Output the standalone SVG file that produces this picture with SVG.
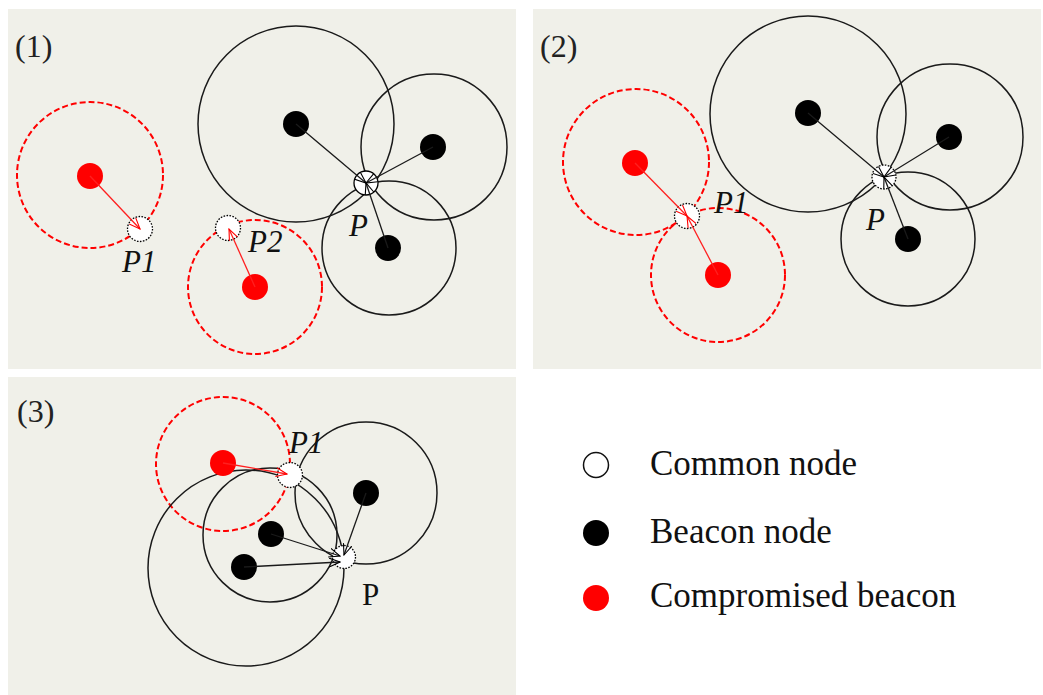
<svg xmlns="http://www.w3.org/2000/svg" width="1043" height="695" viewBox="0 0 1043 695">
<style>
.bg{fill:#f0f0e9}
.rng{fill:none;stroke:#1a1a1a;stroke-width:1.5}
.rrng{fill:none;stroke:#ff0000;stroke-width:2;stroke-dasharray:6 3}
.bk{fill:#000}
.rd{fill:#ff0000}
.cn{fill:#fff;stroke:#000;stroke-width:1.3;stroke-dasharray:1.6 1.4}
.ln{stroke:#1a1a1a;stroke-width:1.3;fill:none;marker-end:url(#ab)}
.rl{stroke:#ff2020;stroke-width:1.3;fill:none;marker-end:url(#ar)}
.tag{font-family:"Liberation Serif",serif;font-size:32px;fill:#222}
.it{font-family:"Liberation Serif",serif;font-style:italic;font-size:31px;fill:#111}
.up{font-family:"Liberation Serif",serif;font-size:31px;fill:#111}
.lg{font-family:"Liberation Serif",serif;font-size:35px;fill:#111}
</style>
<defs>
<marker id="ab" viewBox="0 0 12 10" refX="11" refY="5" markerWidth="12" markerHeight="10" orient="auto" markerUnits="userSpaceOnUse"><path d="M0,0.5 L11,5 L0,9.5" fill="none" stroke="#000" stroke-width="1.1"/></marker>
<marker id="ar" viewBox="0 0 12 10" refX="11" refY="5" markerWidth="12" markerHeight="10" orient="auto" markerUnits="userSpaceOnUse"><path d="M0,0.5 L11,5 L0,9.5" fill="none" stroke="#ff0000" stroke-width="1.1"/></marker>
</defs>
<rect width="1043" height="695" fill="#fff"/>
<g id="panels">
<rect class="bg" x="8" y="9" width="508" height="360"/>
<rect class="bg" x="533" y="9" width="508" height="360"/>
<rect class="bg" x="8" y="377" width="508" height="318"/>
</g>
<g id="ranges">
<circle class="rrng" cx="90" cy="175" r="73"/>
<circle class="rrng" cx="255" cy="287" r="67"/>
<circle class="rng" cx="296" cy="124" r="98"/>
<circle class="rng" cx="434" cy="147" r="73"/>
<circle class="rng" cx="389" cy="248" r="67"/>
<circle class="rrng" cx="636" cy="162" r="73"/>
<circle class="rrng" cx="718" cy="275" r="67"/>
<circle class="rng" cx="808" cy="114" r="98"/>
<circle class="rng" cx="950" cy="137" r="73"/>
<circle class="rng" cx="908" cy="239" r="67"/>
<circle class="rrng" cx="223" cy="464" r="67"/>
<circle class="rng" cx="246" cy="568" r="98"/>
<circle class="rng" cx="270" cy="535" r="67"/>
<circle class="rng" cx="366" cy="493" r="71"/>
</g>
<g id="p1-beacon-red-a"><circle class="rd" cx="90" cy="176" r="13"/></g>
<g id="p1-beacon-red-b"><circle class="rd" cx="255" cy="287" r="13"/></g>
<g id="p1-beacon-1"><circle class="bk" cx="296" cy="124" r="13"/></g>
<g id="p1-beacon-2"><circle class="bk" cx="433" cy="147" r="13"/></g>
<g id="p1-beacon-3"><circle class="bk" cx="388" cy="248" r="13"/></g>
<g id="p1-node-P1"><circle class="cn" cx="140" cy="229" r="12.5"/></g>
<g id="p1-node-P2"><circle class="cn" cx="228" cy="228" r="12.5"/></g>
<g id="p1-node-P"><circle class="cn" cx="366" cy="183" r="12" style="stroke-dasharray:none"/></g>
<g id="p2-beacon-red-a"><circle class="rd" cx="635" cy="163" r="13"/></g>
<g id="p2-beacon-red-b"><circle class="rd" cx="718" cy="275" r="13"/></g>
<g id="p2-beacon-1"><circle class="bk" cx="808" cy="113" r="13"/></g>
<g id="p2-beacon-2"><circle class="bk" cx="949" cy="137" r="13"/></g>
<g id="p2-beacon-3"><circle class="bk" cx="908" cy="239" r="13"/></g>
<g id="p2-node-P1"><circle class="cn" cx="687" cy="216" r="12.5"/></g>
<g id="p2-node-P"><circle class="cn" cx="884" cy="177" r="12"/></g>
<g id="p3-beacon-red"><circle class="rd" cx="223" cy="463" r="13"/></g>
<g id="p3-beacon-1"><circle class="bk" cx="244" cy="567" r="13"/></g>
<g id="p3-beacon-2"><circle class="bk" cx="271" cy="534" r="13"/></g>
<g id="p3-beacon-3"><circle class="bk" cx="366" cy="493" r="13"/></g>
<g id="p3-node-P1"><circle class="cn" cx="290" cy="475" r="12.5"/></g>
<g id="p3-node-P"><circle class="cn" cx="344" cy="557" r="11.5"/></g>
<g id="connectors">
<line class="rl" x1="90" y1="176" x2="140" y2="229"/>
<line class="rl" x1="255" y1="287" x2="229" y2="229"/>
<line class="ln" x1="296" y1="124" x2="366" y2="183"/>
<line class="ln" x1="433" y1="147" x2="366" y2="183"/>
<line class="ln" x1="388" y1="248" x2="366" y2="183"/>
<line class="rl" x1="635" y1="163" x2="687" y2="216"/>
<line class="rl" x1="718" y1="275" x2="687" y2="216"/>
<line class="ln" x1="808" y1="113" x2="884" y2="177"/>
<line class="ln" x1="949" y1="137" x2="884" y2="177"/>
<line class="ln" x1="908" y1="239" x2="884" y2="177"/>
<line class="rl" x1="223" y1="463" x2="287" y2="474"/>
<line class="ln" x1="271" y1="534" x2="340" y2="556"/>
<line class="ln" x1="244" y1="567" x2="340" y2="562"/>
<line class="ln" x1="366" y1="493" x2="344" y2="555"/>
</g>
<g id="labels">
<text class="tag" x="15" y="57">(1)</text>
<text class="tag" x="540" y="57">(2)</text>
<text class="tag" x="17" y="422">(3)</text>
<text class="it" x="122" y="272">P1</text>
<text class="it" x="248" y="252">P2</text>
<text class="it" x="349" y="236">P</text>
<text class="it" x="714" y="213">P1</text>
<text class="it" x="866" y="230">P</text>
<text class="it" x="289" y="453">P1</text>
<text class="up" x="362" y="605">P</text>
</g>
<g id="legend">
<g id="legend-common"><circle cx="596" cy="465" r="12.5" fill="#fff" stroke="#111" stroke-width="1.5"/><text class="lg" x="650" y="475">Common node</text></g>
<g id="legend-beacon"><circle class="bk" cx="596" cy="533" r="13"/><text class="lg" x="650" y="543">Beacon node</text></g>
<g id="legend-compromised"><circle class="rd" cx="596" cy="598" r="13"/><text class="lg" x="650" y="607">Compromised beacon</text></g>
</g>
</svg>
